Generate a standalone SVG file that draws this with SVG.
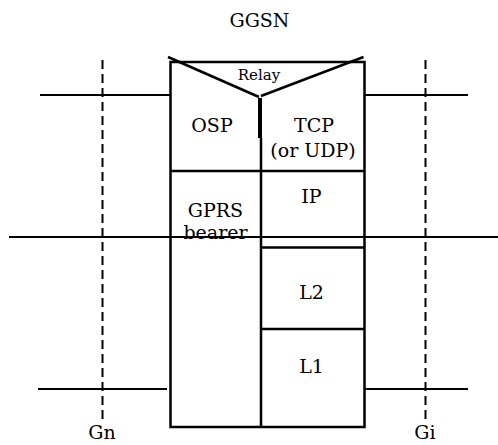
<svg xmlns="http://www.w3.org/2000/svg" width="498" height="445" viewBox="0 0 498 445">
<style>
.t{fill:#000;text-anchor:middle}
.ln{stroke:#000;stroke-width:2;fill:none}
.bx{stroke:#000;stroke-width:2.5;fill:none}
.d{stroke:#000;stroke-width:2;stroke-dasharray:9 5;fill:none}
</style>
<rect width="498" height="445" fill="#fff"/>
<g id="connectors">
<line class="d" x1="102.5" y1="60" x2="102.5" y2="424"/>
<line class="d" x1="425.5" y1="60" x2="425.5" y2="424"/>
<line class="ln" x1="40" y1="95" x2="170" y2="95"/>
<line class="ln" x1="364" y1="95" x2="468" y2="95"/>
<line class="ln" x1="9" y1="237" x2="498" y2="237"/>
<line class="ln" x1="38" y1="389" x2="167" y2="389"/>
<line class="ln" x1="364" y1="389" x2="468" y2="389"/>
</g>
<g font-family="'DejaVu Serif', serif" font-size="19">
<g id="ggsn">
<text class="t" x="259.5" y="27">GGSN</text>
<rect class="bx" x="170.5" y="62" width="194" height="365"/>
<line class="bx" x1="168" y1="57" x2="259" y2="97"/>
<line class="bx" x1="261" y1="96" x2="363.5" y2="57"/>
<line stroke="#000" stroke-width="4" x1="260" y1="98" x2="260" y2="138"/>
<line class="bx" x1="261" y1="138" x2="261" y2="427"/>
<line class="bx" x1="170.5" y1="171" x2="364.5" y2="171"/>
<line class="bx" x1="261" y1="247.5" x2="364.5" y2="247.5"/>
<line class="bx" x1="261" y1="329" x2="364.5" y2="329"/>
</g>
<g id="relay"><text class="t" x="259" y="80" font-size="15">Relay</text></g>
<g id="osp"><text class="t" x="212" y="132">OSP</text></g>
<g id="tcp"><text class="t" x="314" y="132">TCP</text><text class="t" x="313" y="157">(or UDP)</text></g>
<g id="gprs"><text class="t" x="215.5" y="217">GPRS</text><text class="t" x="215.5" y="239">bearer</text></g>
<g id="ip"><text class="t" x="311.5" y="203">IP</text></g>
<g id="l2"><text class="t" x="311.5" y="299">L2</text></g>
<g id="l1"><text class="t" x="311.5" y="373">L1</text></g>
<g id="gn"><text class="t" x="102" y="439">Gn</text></g>
<g id="gi"><text class="t" x="425" y="439">Gi</text></g>
</g>
</svg>
